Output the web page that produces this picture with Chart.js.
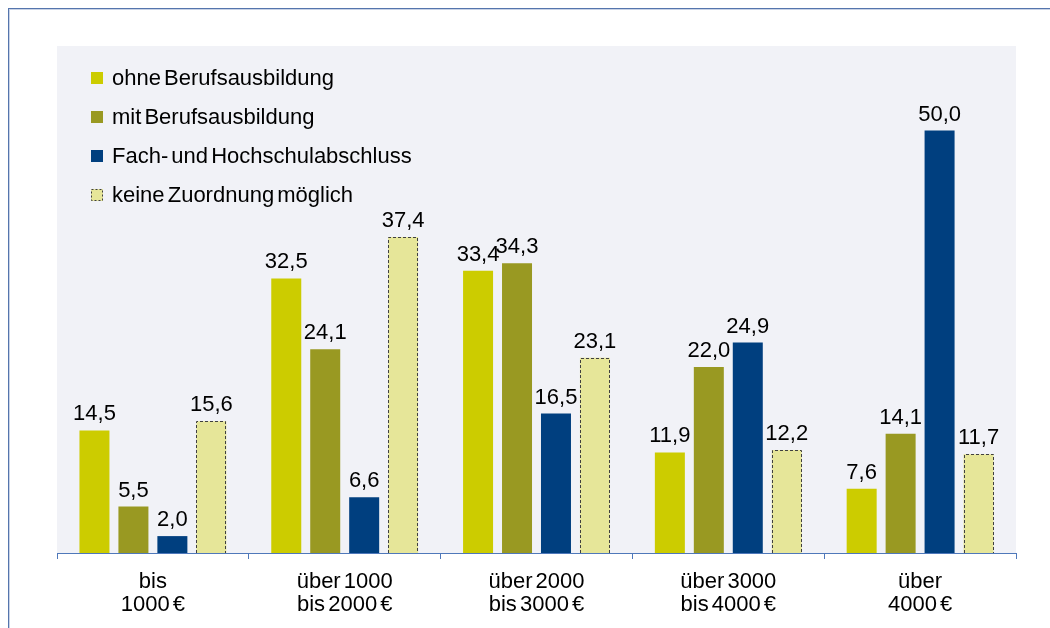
<!DOCTYPE html>
<html>
<head>
<meta charset="utf-8">
<script src="https://cdn.jsdelivr.net/npm/chart.js@4"></script>
<style>
html,body{margin:0;padding:0;background:#fff;}
#wrap{width:1050px;height:628px;position:relative;}
</style>
</head>
<body>
<div id="wrap"><canvas id="c" width="1050" height="628"></canvas></div>
<script>
const categories = [["bis","1000 €"],["über 1000","bis 2000 €"],["über 2000","bis 3000 €"],["über 3000","bis 4000 €"],["über","4000 €"]];
const seriesNames = ["ohne Berufsausbildung","mit Berufsausbildung","Fach- und Hochschulabschluss","keine Zuordnung möglich"];
const ohneBerufsausbildung = [14.5, 32.5, 33.4, 11.9, 7.6];
const mitBerufsausbildung = [5.5, 24.1, 34.3, 22.0, 14.1];
const hochschulabschluss = [2.0, 6.6, 16.5, 24.9, 50.0];
const keineZuordnung = [15.6, 37.4, 23.1, 12.2, 11.7];
const seriesColors = ["#CCCC00","#999922","#003F7F","#E6E699"];

const FONT = "22px 'Liberation Sans', Arial, sans-serif";

const framePlugin = {
  id:'frame',
  beforeDraw(chart){
    const ctx = chart.ctx, a = chart.chartArea;
    ctx.wordSpacing = '-3px';
    ctx.save();
    ctx.fillStyle = '#fff';
    ctx.fillRect(0,0,chart.width,chart.height);
    ctx.strokeStyle = '#5575ad';
    ctx.lineWidth = 1;
    ctx.strokeRect(8.5,8.5,chart.width+20,chart.height+20);
    ctx.strokeStyle = '#c9d3e6';
    ctx.strokeRect(9.5,9.5,chart.width+20,chart.height+20);
    ctx.fillStyle = '#F1F2F7';
    ctx.fillRect(a.left, a.top, a.right-a.left, a.bottom-a.top);
    ctx.restore();
  }
};

const dashPlugin = {
  id:'dashBorder',
  afterDatasetDraw(chart, args){
    if (args.index !== 3) return;
    const ctx = chart.ctx;
    ctx.save();
    ctx.strokeStyle = '#404040';
    ctx.lineWidth = 1;
    ctx.setLineDash([3,2]);
    args.meta.data.forEach(el => {
      const p = el.getProps(['x','y','base','width'], true);
      const l = Math.round(p.x - p.width/2) + 0.5, r = Math.round(p.x + p.width/2) - 0.5;
      const t = Math.round(p.y) + 0.5, b = p.base;
      ctx.beginPath();
      ctx.moveTo(l, b); ctx.lineTo(l, t); ctx.lineTo(r, t); ctx.lineTo(r, b);
      ctx.stroke();
    });
    ctx.restore();
  }
};

const labelPlugin = {
  id:'valueLabels',
  afterDatasetsDraw(chart){
    const ctx = chart.ctx;
    ctx.save();
    ctx.font = FONT;
    ctx.fillStyle = '#000';
    ctx.textAlign = 'center';
    ctx.textBaseline = 'alphabetic';
    chart.data.datasets.forEach((ds, di) => {
      chart.getDatasetMeta(di).data.forEach((el, i) => {
        const v = ds.data[i];
        ctx.fillText(v.toFixed(1).replace('.', ','), el.x, el.y - 10);
      });
    });
    ctx.restore();
  }
};

const legendPlugin = {
  id:'innerLegend',
  afterDraw(chart){
    const ctx = chart.ctx;
    ctx.save();
    ctx.font = FONT;
    ctx.wordSpacing = '-3px';
    ctx.textBaseline = 'alphabetic';
    ctx.textAlign = 'left';
    chart.data.datasets.forEach((ds, i) => {
      const cy = 78 + i*39;
      ctx.fillStyle = ds.backgroundColor;
      ctx.fillRect(91, cy-6, 12, 12);
      if (i === 3) {
        ctx.strokeStyle = '#404040';
        ctx.setLineDash([2,2]);
        ctx.strokeRect(91.5, cy-5.5, 11, 11);
        ctx.setLineDash([]);
      }
      ctx.fillStyle = '#000';
      ctx.fillText(ds.label, 112, cy + 7);
    });
    ctx.restore();
  }
};

const seriesData = [ohneBerufsausbildung, mitBerufsausbildung, hochschulabschluss, keineZuordnung];

new Chart(document.getElementById('c'), {
  type:'bar',
  data:{
    labels: categories,
    datasets: seriesNames.map((n,i)=>({
      label:n,
      data: seriesData[i],
      backgroundColor: seriesColors[i],
      borderWidth:0,
      categoryPercentage:0.8125,
      barPercentage:0.77
    }))
  },
  options:{
    responsive:false,
    animation:false,
    devicePixelRatio:1,
    layout:{padding:{left:57,right:34,top:46,bottom:0}},
    plugins:{legend:{display:false},tooltip:{enabled:false}},
    scales:{
      x:{
        grid:{offset:true,drawOnChartArea:false,color:'#4F78BA',tickLength:6,tickWidth:1},
        border:{color:'#4F78BA',width:1},
        ticks:{color:'#000',font:{family:"'Liberation Sans', Arial, sans-serif",size:22,lineHeight:1.07},padding:11,maxRotation:0,autoSkip:false},
        afterFit(s){ s.height = 75; }
      },
      y:{display:false,min:0,max:60}
    }
  },
  plugins:[framePlugin, dashPlugin, labelPlugin, legendPlugin]
});
</script>
</body>
</html>
